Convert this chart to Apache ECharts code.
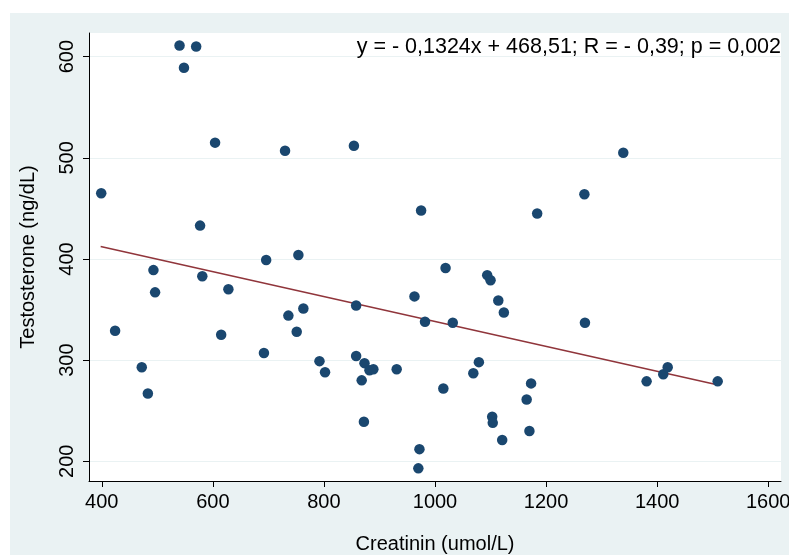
<!DOCTYPE html>
<html lang="en">
<head>
    <meta charset="utf-8">
    <title>Creatinin vs Testosterone</title>
    <script type="text/javascript" src="https://cdn.jsdelivr.net/npm/echarts@6/dist/echarts.min.js"></script>
    <style>
        body { margin: 0; background: #fff; }
        #wrap { position: relative; width: 789px; height: 555px; background: #fff; }
        #main { position: absolute; left: 10px; top: 13px; width: 779px; height: 542px; background: #EAF2F3; }
    </style>
</head>
<body>
<div id="wrap"><div id="main"></div></div>

<script type="text/javascript">
    // daten
    var creatinin = [540, 570, 548, 604, 730, 399, 577, 696, 754, 854,
        975, 1184, 1339, 1269, 493, 496, 424, 472, 483, 581,
        628, 615, 692, 736, 763, 751, 792, 802, 858, 858,
        873, 882, 889, 868, 872, 931, 963, 982, 1019, 1032,
        1015, 972, 970, 1094, 1100, 1114, 1124, 1079, 1069, 1103,
        1104, 1121, 1173, 1165, 1170, 1270, 1381, 1411, 1419, 1509];
    var testosterone = [611, 610, 589, 515, 507, 465, 433, 399, 404, 512,
        448, 445, 505, 464, 389, 367, 329, 293, 267, 383,
        370, 325, 307, 344, 351, 328, 299, 288, 354, 304,
        297, 290, 291, 280, 239, 291, 363, 338, 391, 337,
        272, 212, 193, 384, 379, 359, 347, 298, 287, 244,
        238, 221, 277, 261, 230, 337, 279, 286, 293, 279];

    // regressionsgerade (endpunkte, aus dem bild gelesen)
    var fitX = [398, 1508];
    var fitY = [412.3, 275.6];

    var xTicks = [400, 600, 800, 1000, 1200, 1400, 1600];
    var yTicks = [200, 300, 400, 500, 600];

    var equation = 'y = - 0,1324x + 468,51; R = - 0,39; p = 0,002';

    var points = [];
    for (var i = 0; i < creatinin.length; i++) {
        points.push([creatinin[i], testosterone[i]]);
    }
    var fitLine = [];
    for (var j = 0; j < fitX.length; j++) {
        fitLine.push([fitX[j], fitY[j]]);
    }

    var font = '"Liberation Sans", Arial, Helvetica, sans-serif';
    var plain = function (v) { return String(v); };
    var myChart = echarts.init(document.getElementById('main'));

    var option = {
        backgroundColor: 'transparent',
        animation: false,
        textStyle: { fontFamily: font },
        title: {
            text: equation,
            right: 8,
            top: 23,
            padding: 0,
            textStyle: { fontSize: 21.5, fontWeight: 'normal', color: '#000', fontFamily: font }
        },
        grid: {
            left: 79,
            top: 20,
            width: 692,
            height: 448,
            outerBoundsMode: 'none',
            containLabel: false,
            show: true,
            backgroundColor: '#fff',
            borderWidth: 0
        },
        xAxis: {
            type: 'value',
            min: 377,
            max: 1623,
            name: 'Creatinin (umol/L)',
            nameLocation: 'middle',
            nameGap: 53,
            nameTextStyle: { fontSize: 20, color: '#000', fontFamily: font },
            axisLine: { show: true, onZero: false, lineStyle: { color: '#000', width: 1 } },
            axisTick: { show: true, length: 6, lineStyle: { color: '#000' }, customValues: xTicks },
            axisLabel: { fontSize: 20, color: '#000', margin: 11, formatter: plain, customValues: xTicks },
            splitLine: { show: false }
        },
        yAxis: {
            type: 'value',
            min: 180.5,
            max: 623.4,
            name: 'Testosterone (ng/dL)',
            nameLocation: 'middle',
            nameGap: 51,
            nameTextStyle: { fontSize: 20, color: '#000', fontFamily: font },
            axisLine: { show: true, onZero: false, lineStyle: { color: '#000', width: 1 } },
            axisTick: { show: true, length: 6, lineStyle: { color: '#000' }, customValues: yTicks },
            axisLabel: { fontSize: 20, color: '#000', margin: 12, rotate: 90, formatter: plain, customValues: yTicks },
            splitLine: { show: true, lineStyle: { color: '#EAF2F3', width: 1 } }
        },
        series: [
            {
                name: 'Fit',
                type: 'line',
                data: fitLine,
                symbol: 'none',
                lineStyle: { color: '#90353B', width: 1.5 },
                z: 2
            },
            {
                name: 'Daten',
                type: 'scatter',
                data: points,
                symbolSize: 10.5,
                itemStyle: { color: '#1A476F', opacity: 1 },
                z: 3
            }
        ]
    };

    myChart.setOption(option);
</script>
</body>
</html>
